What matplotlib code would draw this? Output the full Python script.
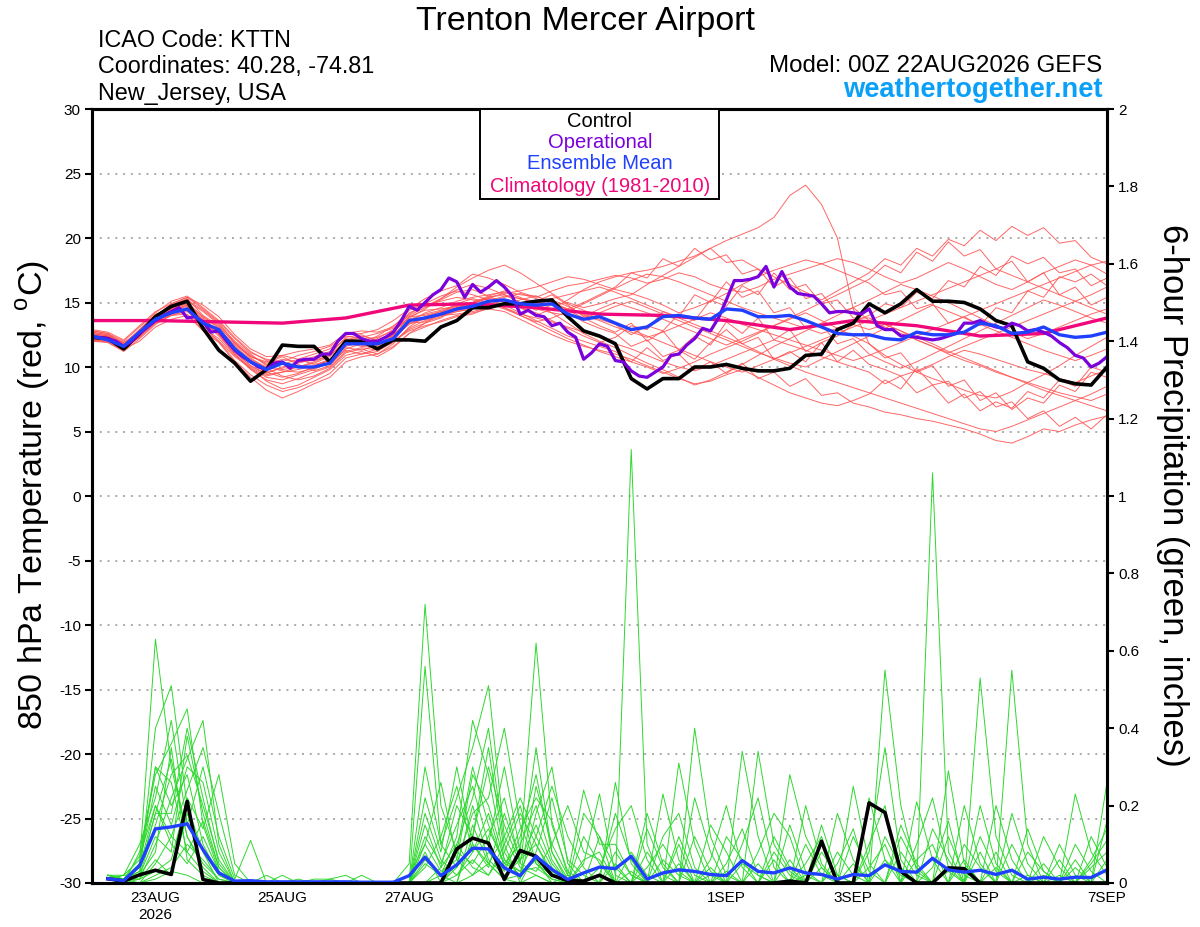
import numpy as np
import pandas as pd
import matplotlib
matplotlib.use('Agg')
import matplotlib.pyplot as plt
from matplotlib.patches import Rectangle

# 字形
plt.rcParams['font.family'] = ['Liberation Sans', 'DejaVu Sans']
plt.rcParams['mathtext.fontset'] = 'custom'
plt.rcParams['mathtext.rm'] = 'Liberation Sans'
plt.rcParams['axes.unicode_minus'] = False

# 時間軸
t_temp = pd.date_range('2026-08-22 00:00', '2026-09-07 00:00', freq='6h')
t_prcp = t_temp[1:]
t_oper = pd.date_range('2026-08-22 00:00', '2026-09-07 00:00', freq='3h')
t_clim = pd.date_range('2026-08-22', '2026-09-07', freq='D')

tick_dates = ['2026-08-23', '2026-08-25', '2026-08-27', '2026-08-29',
              '2026-09-01', '2026-09-03', '2026-09-05', '2026-09-07']
tick_labels = ['23AUG\n2026', '25AUG', '27AUG', '29AUG', '1SEP', '3SEP', '5SEP', '7SEP']

# 850 hPa temperature
clim_t = [13.6, 13.6, 13.5, 13.4, 13.8, 14.8, 14.9, 14.6, 14.1, 14.0, 13.6, 12.9,
          13.6, 13.2, 12.4, 12.6, 13.8]

mean_t = [12.4, 12.1, 11.6, 12.7, 13.7, 14.2, 14.5, 13.4, 12.9, 11.4, 10.4, 9.8, 10.3, 10.0, 10.0, 10.3, 11.8,
          11.8, 11.8, 12.2, 13.6, 13.8, 14.1, 14.5, 14.7, 15.1, 15.2, 14.9, 14.8, 14.9, 14.1, 13.7, 13.9,
          13.4, 12.9, 13.1, 13.9, 14.0, 13.8, 13.7, 14.5, 14.4, 13.9, 13.9, 14.0, 13.6, 13.1, 12.6, 12.5,
          12.5, 12.2, 12.1, 12.7, 12.5, 12.5, 12.7, 13.4, 13.2, 12.6, 12.7, 13.1, 12.5, 12.3, 12.4, 12.7]

ctrl_t = [12.3, 12.2, 11.4, 12.6, 13.9, 14.7, 15.1, 13.0, 11.3, 10.3, 8.9, 9.8, 11.7, 11.6, 11.6, 10.4, 12.0,
          12.0, 11.4, 12.1, 12.1, 12.0, 13.1, 13.6, 14.6, 14.6, 14.9, 14.9, 15.1, 15.2, 13.9, 12.8, 12.4,
          11.8, 9.1, 8.3, 9.1, 9.1, 10.0, 10.0, 10.2, 9.9, 9.7, 9.7, 9.9, 10.9, 11.0, 12.9, 13.4,
          14.9, 14.2, 14.9, 16.0, 15.1, 15.1, 15.0, 14.5, 13.6, 13.2, 10.4, 9.9, 9.0, 8.7, 8.6, 10.0]

# operational run, 3-hourly
oper_t = [12.3, 12.3, 12.2, 12.0, 11.6, 12.0, 12.6, 13.1, 13.6, 14.0, 14.3, 14.6, 13.8, 13.9, 13.5, 12.7,
          12.8, 12.0, 11.3, 10.8, 10.4, 10.0, 9.8, 10.3, 10.4, 9.9, 10.5, 10.6, 10.6, 11.0, 11.0, 12.0,
          12.6, 12.6, 12.2, 12.0, 12.0, 12.3, 12.7, 13.6, 14.7, 14.4, 15.0, 15.6, 16.0,
          16.9, 16.6, 15.4, 16.4, 15.8, 16.2, 16.7, 16.2, 15.5, 14.1, 14.4, 14.0, 13.9, 13.2, 13.4, 12.7,
          12.3, 10.6, 11.1, 11.8, 11.6, 10.5, 10.4, 9.7, 9.3, 9.2, 9.6, 10.0, 10.9, 11.0, 11.7, 12.2,
          13.0, 12.8, 13.8, 15.2, 16.7, 16.7, 16.8, 17.0, 17.8,
          16.2, 17.4, 16.2, 15.7, 15.6, 15.5, 14.9, 14.2, 14.3, 14.3, 14.2, 14.1, 14.5, 13.2, 12.9, 12.9,
          12.4, 12.4, 12.3, 12.2, 12.1, 12.2, 12.4, 12.6, 13.4, 13.4, 13.6, 13.3, 13.1, 13.0, 13.4, 13.2,
          12.8, 12.9, 12.7, 12.4, 11.9, 11.5, 10.9, 10.7, 10.0, 10.3, 10.8]

# ensemble members (temperature)
t_mem01 = [12.6, 12.4, 11.8, 12.9, 14.0, 14.8, 15.3, 14.0, 13.2, 11.8, 10.9, 10.2, 10.6, 10.4, 10.5, 10.9, 12.0,
           12.3, 12.6, 13.0, 14.0, 14.6, 15.2, 15.8, 16.0, 15.5, 15.0, 14.6, 14.0, 14.5, 15.2, 16.0, 16.6,
           17.0, 17.3, 17.5, 17.8, 18.2, 18.6, 19.2, 19.8, 20.3, 20.8, 21.6, 23.3, 24.1, 22.6, 20.0, 14.5,
           11.8, 10.9, 10.2, 9.6, 9.1, 8.7, 8.2, 7.8, 7.6, 8.1, 8.8, 9.4, 10.1, 10.9, 11.6, 12.3]
t_mem02 = [12.2, 12.0, 11.4, 12.5, 13.5, 14.3, 14.8, 13.8, 12.7, 11.2, 10.1, 9.4, 9.6, 9.8, 10.1, 10.6, 11.6,
           11.9, 12.2, 12.9, 13.8, 14.5, 15.3, 16.0, 16.4, 16.1, 15.6, 15.0, 14.4, 14.8, 15.0, 14.6, 14.9,
           15.3, 15.6, 16.4, 17.1, 17.8, 18.5, 19.2, 18.1, 18.3, 17.6, 17.0, 16.4, 15.8, 15.2, 15.9, 16.6,
           17.3, 18.4, 17.9, 19.2, 18.6, 19.9, 19.4, 20.6, 19.8, 20.9, 20.2, 20.8, 19.6, 19.8, 18.5, 18.0]
t_mem03 = [12.4, 12.2, 11.7, 12.8, 13.9, 14.6, 14.9, 13.5, 12.4, 11.0, 9.8, 9.0, 8.7, 9.1, 9.6, 10.0, 11.2,
           11.5, 11.3, 11.9, 13.0, 13.6, 14.0, 14.3, 14.5, 14.7, 14.8, 14.2, 13.6, 13.0, 12.4, 12.0, 11.6,
           11.2, 10.4, 11.5, 10.5, 11.0, 9.8, 10.4, 9.5, 10.3, 9.1, 9.6, 8.5, 9.1, 7.8, 8.0, 7.2,
           6.9, 6.5, 6.3, 6.0, 5.8, 5.5, 5.2, 4.8, 4.3, 4.1, 4.6, 5.2, 5.0, 5.5, 5.9, 6.2]
t_mem04 = [12.8, 12.6, 12.0, 13.1, 14.2, 15.1, 15.5, 14.6, 13.6, 12.3, 11.2, 10.5, 10.2, 10.6, 11.0, 11.4, 12.5,
           12.6, 12.9, 13.6, 14.5, 15.3, 15.9, 16.3, 17.2, 16.9, 16.4, 15.8, 15.4, 15.9, 16.3, 16.5, 16.8,
           17.1, 16.9, 16.5, 16.8, 17.3, 17.0, 16.4, 16.0, 15.8, 16.2, 16.8, 17.2, 17.6, 18.0, 18.4, 18.1,
           17.6, 17.0, 16.5, 16.9, 17.5, 18.1, 17.6, 17.0, 16.4, 16.0, 16.6, 17.3, 17.8, 18.3, 17.9, 17.2]
t_mem05 = [12.1, 11.9, 11.2, 12.2, 13.3, 14.0, 14.4, 13.1, 12.0, 10.8, 9.9, 9.2, 9.0, 9.4, 9.8, 10.4, 11.3,
           11.0, 11.2, 12.0, 12.9, 13.4, 13.8, 14.6, 15.0, 15.3, 15.1, 14.9, 14.6, 14.9, 14.2, 13.5, 13.0,
           12.6, 11.6, 12.1, 10.8, 11.3, 10.6, 11.9, 12.9, 11.8, 12.3, 10.6, 11.2, 10.4, 11.9, 12.4, 13.3,
           12.9, 13.3, 12.8, 12.1, 11.6, 11.0, 10.5, 10.1, 9.6, 9.2, 8.8, 8.4, 8.0, 7.7, 7.4, 7.9]
t_mem06 = [12.7, 12.5, 11.9, 12.6, 13.8, 14.7, 15.1, 14.3, 13.3, 12.0, 11.0, 10.1, 9.8, 10.0, 10.3, 10.8, 12.1,
           12.4, 12.1, 12.4, 13.5, 14.2, 14.6, 15.1, 15.4, 15.6, 15.8, 15.4, 14.8, 14.2, 13.4, 12.6, 12.0,
           11.5, 10.9, 10.3, 9.8, 9.2, 8.6, 9.0, 9.6, 10.2, 10.9, 11.6, 12.2, 12.8, 13.4, 14.0, 14.6,
           15.2, 15.8, 16.4, 16.0, 15.5, 15.0, 14.4, 13.8, 13.2, 12.7, 12.2, 12.6, 13.1, 13.6, 14.1, 14.5]
t_mem07 = [12.3, 12.1, 11.5, 12.3, 13.4, 14.1, 14.6, 13.6, 12.5, 11.0, 9.9, 8.9, 8.3, 8.6, 9.2, 9.8, 10.9,
           11.2, 10.8, 11.5, 12.6, 13.1, 13.6, 14.0, 14.2, 14.5, 14.3, 13.7, 13.1, 12.5, 12.0, 11.6, 11.3,
           11.0, 10.6, 10.1, 9.6, 9.1, 8.7, 8.9, 9.4, 9.8, 9.2, 8.6, 8.0, 7.6, 7.2, 7.0, 7.4,
           7.9, 9.0, 8.3, 9.9, 8.6, 8.9, 7.6, 8.1, 6.9, 7.3, 6.0, 6.6, 5.4, 6.1, 5.2, 6.3]
t_mem08 = [12.5, 12.3, 11.6, 12.6, 13.7, 14.4, 14.7, 13.4, 12.9, 11.7, 10.8, 10.4, 10.9, 10.6, 10.2, 10.5, 11.9,
           11.7, 11.6, 12.4, 13.9, 14.0, 14.3, 14.7, 15.0, 15.4, 15.7, 15.9, 16.2, 16.6, 17.0, 16.8, 16.4,
           16.0, 15.7, 15.3, 14.8, 14.2, 14.6, 15.1, 15.7, 16.4, 17.0, 17.5, 17.9, 18.3, 18.0, 17.5, 17.0,
           16.5, 15.6, 15.9, 14.5, 14.9, 13.4, 13.9, 13.2, 14.6, 14.2, 15.9, 15.4, 17.0, 16.6, 17.2, 16.3]
t_mem09 = [12.0, 12.0, 11.3, 12.4, 13.4, 14.0, 14.1, 12.9, 12.0, 10.5, 9.4, 8.6, 8.1, 8.4, 8.9, 9.5, 10.7,
           11.0, 11.4, 12.0, 12.8, 13.2, 13.5, 13.9, 14.1, 14.6, 14.9, 15.2, 15.5, 15.0, 14.4, 13.8, 13.2,
           12.7, 13.4, 12.0, 12.8, 11.3, 12.4, 11.7, 13.5, 12.6, 13.8, 12.1, 12.9, 11.2, 11.9, 10.4, 11.3,
           10.2, 9.8, 9.3, 9.7, 10.2, 10.8, 11.3, 11.0, 10.6, 10.2, 9.8, 9.5, 9.1, 8.8, 9.3, 9.8]
t_mem10 = [12.9, 12.7, 12.1, 13.2, 14.3, 14.9, 15.4, 14.8, 13.9, 12.5, 11.4, 10.8, 10.9, 11.2, 11.4, 11.7, 12.6,
           12.8, 12.7, 13.1, 14.4, 14.9, 15.5, 15.9, 15.6, 15.2, 14.6, 14.0, 13.5, 13.8, 14.3, 14.9, 15.5,
           16.1, 16.7, 17.2, 17.0, 16.6, 16.1, 15.6, 15.1, 14.6, 14.2, 13.8, 13.4, 13.0, 12.6, 13.0, 13.5,
           14.0, 14.9, 14.6, 15.8, 15.3, 16.7, 16.2, 17.8, 17.1, 18.6, 18.0, 18.5, 17.3, 17.6, 16.3, 16.9]
t_mem11 = [12.4, 12.2, 11.4, 12.0, 13.1, 13.7, 14.0, 12.8, 11.9, 10.4, 9.2, 8.2, 7.6, 8.1, 8.7, 9.2, 10.4,
           10.8, 11.0, 11.6, 12.6, 13.4, 14.2, 14.9, 15.3, 15.0, 14.6, 14.1, 13.8, 13.5, 13.1, 12.7, 12.3,
           11.8, 11.4, 10.9, 10.4, 10.0, 9.7, 10.1, 10.6, 11.1, 11.6, 12.1, 11.7, 11.3, 10.8, 10.4, 10.0,
           9.6, 8.7, 9.3, 8.0, 8.6, 7.2, 7.9, 6.6, 7.3, 6.8, 8.1, 7.6, 9.0, 8.5, 10.0, 9.6]
t_mem12 = [12.6, 12.4, 11.9, 12.7, 13.9, 14.5, 14.9, 13.9, 13.0, 11.6, 10.6, 10.0, 9.7, 9.6, 9.9, 10.6, 11.8,
           12.1, 12.3, 12.8, 13.7, 14.1, 14.4, 14.8, 15.0, 15.3, 15.2, 14.8, 14.5, 14.2, 14.0, 13.8, 14.2,
           14.7, 15.1, 14.6, 14.1, 13.6, 13.1, 12.6, 12.1, 11.6, 11.1, 10.7, 10.3, 10.0, 10.6, 11.2, 11.8,
           12.4, 13.0, 13.6, 14.2, 14.8, 14.3, 13.8, 13.3, 12.8, 12.3, 11.8, 11.3, 10.9, 10.5, 10.9, 11.4]
t_mem13 = [12.2, 12.1, 11.6, 12.5, 13.5, 14.3, 14.5, 13.1, 12.6, 11.1, 10.1, 9.5, 10.0, 10.3, 10.6, 11.0, 12.3,
           12.5, 12.0, 12.5, 13.4, 13.5, 13.9, 14.3, 14.5, 15.0, 15.4, 15.7, 15.3, 14.9, 14.5, 14.1, 13.7,
           13.3, 12.5, 13.2, 12.8, 14.1, 13.6, 15.2, 14.7, 16.3, 15.6, 17.3, 16.0, 16.4, 14.9, 15.2, 13.8,
           13.8, 13.3, 12.8, 12.3, 11.8, 11.2, 10.7, 10.2, 9.7, 9.2, 8.7, 8.2, 7.8, 7.4, 7.9, 8.5]
t_mem14 = [12.5, 12.3, 11.7, 12.8, 13.6, 14.0, 14.3, 13.3, 12.6, 11.3, 10.3, 9.6, 9.9, 10.4, 10.8, 11.2, 12.2,
           12.0, 11.8, 12.3, 13.3, 13.9, 14.0, 14.1, 14.3, 14.6, 14.9, 14.6, 14.2, 13.6, 13.0, 12.4, 11.9,
           12.3, 13.2, 12.9, 14.3, 13.9, 15.6, 15.0, 16.6, 15.4, 15.9, 14.2, 14.6, 13.0, 13.3, 11.8, 12.2,
           11.0, 10.4, 9.9, 10.4, 11.0, 11.6, 12.2, 12.8, 13.4, 14.0, 14.6, 15.2, 14.8, 14.3, 13.8, 13.4]
t_mem15 = [12.7, 12.5, 11.6, 12.3, 13.8, 14.6, 15.2, 14.4, 13.4, 11.9, 10.7, 9.9, 9.3, 9.0, 9.3, 9.9, 11.1,
           11.4, 11.0, 11.8, 13.1, 13.9, 14.3, 14.6, 14.8, 15.1, 15.5, 15.3, 15.0, 15.3, 15.6, 15.9, 16.2,
           15.8, 15.3, 14.8, 14.3, 13.8, 13.3, 12.8, 12.3, 11.8, 11.2, 10.6, 10.1, 9.6, 9.2, 8.8, 8.4,
           8.0, 7.6, 7.2, 6.8, 6.4, 6.0, 5.6, 5.2, 5.0, 5.4, 5.9, 6.4, 6.9, 7.4, 7.0, 6.6]
t_mem16 = [12.1, 12.0, 11.5, 12.7, 13.6, 14.1, 14.6, 13.7, 12.6, 11.5, 10.4, 9.6, 9.2, 9.5, 10.0, 10.6, 11.7,
           11.9, 12.4, 13.2, 14.1, 14.8, 15.1, 15.4, 15.2, 14.9, 14.5, 14.0, 13.4, 12.8, 12.2, 11.7, 11.2,
           10.8, 10.4, 10.0, 9.5, 9.9, 10.4, 11.0, 11.5, 12.0, 12.6, 13.2, 13.8, 14.4, 15.0, 15.6, 16.2,
           16.8, 17.9, 17.3, 18.9, 18.2, 19.7, 18.6, 19.1, 17.6, 18.2, 16.6, 17.3, 15.6, 16.2, 14.8, 15.4]
t_mem17 = [12.8, 12.6, 11.8, 12.5, 13.9, 14.9, 15.4, 14.5, 13.5, 12.2, 11.1, 10.6, 10.4, 10.9, 11.2, 11.6, 12.4,
           12.2, 11.9, 12.6, 14.2, 14.7, 15.3, 16.2, 16.9, 17.5, 17.9, 17.3, 16.5, 15.7, 14.9, 14.4, 13.9,
           13.4, 12.9, 12.4, 11.9, 11.4, 10.9, 10.4, 10.0, 9.6, 10.1, 10.6, 11.1, 11.6, 12.1, 12.6, 13.1,
           13.6, 14.1, 14.6, 15.1, 15.6, 16.1, 16.6, 17.1, 17.6, 17.1, 16.6, 16.1, 15.6, 15.1, 14.6, 14.1]
t_mem18 = [12.0, 11.9, 11.3, 12.4, 13.5, 14.2, 14.4, 13.0, 12.2, 10.9, 10.0, 9.3, 9.6, 10.0, 10.4, 10.9, 11.9,
           11.6, 11.5, 12.1, 13.4, 13.7, 14.0, 14.4, 14.6, 14.9, 15.1, 14.8, 14.9, 15.2, 14.7, 14.0, 13.6,
           13.1, 12.7, 12.3, 12.7, 13.2, 13.7, 14.2, 13.8, 13.3, 12.9, 12.5, 12.1, 11.7, 11.3, 10.9, 10.5,
           10.9, 11.4, 11.9, 12.4, 12.9, 13.4, 13.9, 14.4, 14.9, 15.4, 15.9, 16.4, 16.9, 17.4, 17.9, 18.2]
t_mem19 = [12.3, 12.2, 11.4, 12.6, 13.7, 14.4, 14.8, 13.6, 12.9, 11.5, 10.5, 9.9, 10.3, 10.1, 10.0, 10.2, 11.5,
           11.3, 11.7, 12.5, 13.6, 13.7, 14.1, 14.5, 14.9, 15.4, 15.6, 15.3, 15.1, 15.6, 14.8, 13.9, 14.5,
           15.0, 14.6, 14.2, 13.7, 13.2, 12.7, 12.2, 11.7, 12.2, 12.7, 13.2, 13.7, 14.2, 13.6, 13.0, 12.4,
           11.8, 10.7, 11.1, 9.6, 10.1, 8.5, 9.0, 7.4, 8.0, 6.7, 7.6, 7.2, 8.6, 8.1, 9.6, 9.2]
t_mem20 = [12.6, 12.4, 11.7, 12.9, 14.1, 14.5, 15.0, 13.9, 13.1, 11.9, 10.8, 10.3, 10.8, 10.2, 9.7, 10.1, 11.4,
           11.8, 12.0, 12.7, 13.9, 14.4, 14.5, 14.7, 15.0, 15.5, 15.9, 15.6, 15.5, 15.0, 14.5, 15.0, 15.6,
           16.2, 17.3, 16.9, 18.4, 17.8, 19.2, 18.3, 18.7, 17.2, 17.6, 16.2, 16.9, 15.3, 15.7, 14.2, 14.6,
           13.6, 13.1, 12.6, 12.1, 11.6, 11.1, 11.6, 12.1, 12.6, 13.1, 13.6, 14.1, 14.6, 15.1, 15.6, 16.2]

temp_members = [t_mem01, t_mem02, t_mem03, t_mem04, t_mem05, t_mem06, t_mem07, t_mem08, t_mem09, t_mem10,
                t_mem11, t_mem12, t_mem13, t_mem14, t_mem15, t_mem16, t_mem17, t_mem18, t_mem19, t_mem20]

# 6-hour precipitation (inches)
mean_p = [.011, .006, .045, .14, .145, .153, .086, .026, .005, .006, .003, .003, .003, .003, .003, .003,
          .002, .002, .002, .019, .067, .019, .047, .09, .088, .039, .019, .069, .035, .009, .026, .041,
          .037, .069, .010, .026, .034, .030, .022, .019, .058, .030, .026, .039, .026, .022, .010, .022,
          .019, .047, .030, .028, .064, .034, .028, .033, .022, .033, .010, .015, .010, .015, .014, .034]

ctrl_p = [.011, .005, .021, .033, .022, .211, .009, 0, 0, 0, 0, 0, 0, 0, 0, 0,
          0, 0, 0, 0, 0, 0, .088, .116, .103, .009, .084, .069, .02, .006, .005, .02,
          0, 0, 0, 0, 0, 0, 0, 0, 0, 0, 0, .005, 0, .108, 0, 0,
          .207, .182, .03, 0, 0, .039, .037, 0, 0, 0, 0, 0, 0, 0, 0, 0]

p_mem01 = [.01, .01, .05, .63, .30, .12, .05, .01, 0, 0, 0, 0, 0, 0, 0, 0,
           0, 0, 0, .05, .72, .20, .08, .30, .15, .05, .10, .20, .06, 0, 0, 0,
           0, 1.12, .10, 0, 0, 0, 0, 0, .05, .02, 0, 0, 0, 0, 0, 0,
           0, .12, .04, 0, 0, 0, 0, .08, 0, 0, 0, 0, 0, 0, 0, 0]
p_mem02 = [.02, .01, .02, .40, .51, .20, .08, .02, 0, 0, 0, 0, 0, 0, 0, 0,
           0, 0, 0, 0, .56, .10, .22, .35, .51, .12, .04, .02, 0, 0, 0, 0,
           .26, .05, 0, 0, .31, .10, 0, 0, 0, 0, 0, 0, 0, .04, 0, .25,
           .05, 0, 0, 0, .14, .06, 0, 0, 0, 0, 0, .02, 0, 0, 0, 0]
p_mem03 = [.01, 0, .08, .28, .36, .45, .15, .03, 0, 0, 0, 0, 0, 0, .01, .02,
           0, 0, 0, 0, .12, .05, .15, .25, .10, .30, .08, .62, .15, .03, 0, 0,
           0, 0, 0, .23, .06, 0, 0, 0, .34, .12, 0, .06, 0, 0, 0, 0,
           0, .55, .20, .03, 0, 0, 0, 0, 0, .10, .02, 0, 0, 0, 0, 0]
p_mem04 = [.01, .01, .01, .10, .22, .32, .42, .10, 0, 0, 0, 0, 0, 0, 0, 0,
           0, 0, 0, 0, .22, .08, .30, .10, .05, .12, .22, .12, .04, 0, 0, .12,
           .04, 0, 0, 0, 0, .40, .12, .02, 0, 0, 0, 0, .05, .12, 0, 0,
           0, 0, 0, 0, 1.06, .08, 0, 0, 0, 0, 0, 0, 0, .06, 0, 0]
p_mem05 = [.02, .01, .03, .18, .18, .40, .22, .05, 0, 0, 0, 0, 0, 0, 0, 0,
           0, 0, 0, 0, .05, .02, .12, .42, .28, .06, .02, .25, .10, .02, .24, .10,
           .10, .02, 0, 0, 0, 0, 0, 0, 0, .34, .10, .03, 0, 0, 0, 0,
           .10, .20, 0, 0, 0, 0, 0, .53, .12, .02, 0, 0, 0, 0, 0, 0]
p_mem06 = [.01, .02, .10, .22, .42, .15, .30, .12, .01, .11, 0, 0, 0, 0, 0, 0,
           0, 0, 0, 0, .08, 0, .05, .18, .22, .40, .15, .05, .02, 0, 0, 0,
           0, 0, .08, .02, 0, 0, .06, .20, .04, 0, 0, .28, .12, .04, 0, 0,
           0, 0, 0, .21, .06, 0, 0, 0, 0, .55, .10, 0, 0, 0, 0, 0]
p_mem07 = [.01, .01, 0, .05, .12, .24, .35, .18, .02, 0, 0, 0, 0, 0, 0, 0,
           0, 0, 0, 0, 0, .04, .20, .12, .35, .08, .01, .18, .30, .05, 0, .04,
           .14, .20, .06, 0, 0, .12, .03, 0, 0, 0, 0, 0, 0, 0, .08, .02,
           0, 0, 0, 0, 0, .29, .05, 0, 0, 0, 0, 0, 0, .23, .08, .02]
p_mem08 = [.02, .01, .04, .30, .26, .08, .03, 0, 0, 0, 0, .02, 0, 0, 0, 0,
           .02, 0, 0, .02, .10, .26, .06, .02, .08, .03, .12, .28, .08, 0, .05, .23,
           .02, 0, 0, .12, .18, .04, 0, 0, 0, .08, .18, .12, 0, 0, 0, 0,
           0, 0, .08, .02, 0, 0, 0, 0, 0, 0, 0, .12, .04, 0, 0, .26]
p_mem09 = [.01, 0, .02, .12, .08, .38, .18, .04, 0, 0, 0, 0, 0, 0, 0, 0,
           0, 0, 0, 0, 0, 0, .04, .10, .04, .18, .06, .10, .02, 0, .12, .05,
           0, 0, 0, 0, .10, 0, 0, .05, .14, .02, 0, 0, 0, 0, 0, .12,
           .03, 0, 0, 0, 0, 0, .10, .04, 0, 0, 0, 0, 0, 0, .05, .11]
p_mem10 = [.02, .02, .06, .30, .20, .28, .10, .02, 0, 0, 0, 0, .01, 0, 0, 0,
           0, 0, 0, 0, .15, .04, .10, .22, .40, .10, 0, .08, .22, .06, .02, 0,
           0, .08, .02, 0, 0, 0, .15, .08, 0, 0, 0, 0, .20, .05, 0, 0,
           0, 0, .15, .05, 0, 0, 0, 0, .20, .06, 0, 0, 0, 0, 0, .06]
p_mem11 = [.01, .01, .01, .03, .06, .22, .14, .28, .05, 0, 0, 0, 0, 0, 0, 0,
           0, 0, 0, 0, 0, .02, .08, .05, .12, .22, .05, .03, .10, .20, .08, .06,
           0, 0, .14, .04, 0, 0, 0, 0, 0, 0, .06, 0, 0, 0, .18, .06,
           0, 0, 0, 0, .04, .16, 0, 0, 0, 0, .08, .03, 0, 0, .12, .04]
p_mem12 = [.01, .01, .03, .18, .32, .12, .04, 0, 0, 0, .02, 0, 0, 0, 0, 0,
           0, 0, 0, 0, .30, .10, .04, .20, .06, .02, .06, .15, .05, 0, 0, 0,
           .05, 0, 0, 0, 0, .22, .08, 0, 0, 0, 0, 0, .02, 0, 0, 0,
           .08, .35, .06, 0, 0, 0, 0, .12, .03, 0, 0, 0, .06, 0, 0, 0]
p_mem13 = [.01, 0, 0, .02, .04, .10, .06, .01, 0, 0, 0, 0, 0, .01, .01, 0,
           0, 0, 0, 0, 0, 0, .02, .08, .14, .05, .03, .04, .01, 0, .18, .12,
           0, .03, 0, 0, .05, 0, 0, 0, .10, .22, .04, 0, 0, 0, .05, .14,
           0, 0, 0, 0, 0, 0, .20, .05, 0, 0, 0, 0, 0, .10, .03, 0]
p_mem14 = [.02, .01, .05, .25, .15, .30, .26, .08, 0, 0, 0, 0, 0, 0, 0, 0,
           0, 0, 0, 0, .04, .12, .25, .08, .18, .04, .14, .22, .16, .02, 0, 0,
           .08, .02, 0, 0, 0, 0, 0, .12, .06, 0, 0, 0, 0, .15, .02, 0,
           0, 0, 0, .10, .22, .04, 0, 0, 0, .18, .05, 0, 0, 0, 0, .16]
p_mem15 = [.01, .01, .02, .08, .35, .06, .02, 0, 0, 0, 0, 0, 0, 0, 0, 0,
           0, 0, 0, 0, 0, 0, 0, .15, .05, .01, .02, .06, 0, .02, 0, 0,
           0, 0, 0, .06, .02, 0, 0, 0, 0, 0, 0, .15, .03, 0, 0, 0,
           0, .06, .02, 0, 0, 0, 0, 0, .08, 0, 0, 0, .10, .02, 0, 0]
p_mem16 = [.02, .01, .04, .20, .10, .05, .12, .03, 0, 0, 0, 0, 0, 0, 0, 0,
           0, 0, 0, 0, .10, .03, .06, .28, .20, .06, .03, .12, .25, .12, .04, 0,
           0, 0, .18, .05, 0, 0, .02, 0, 0, 0, .12, .04, 0, 0, 0, 0,
           .22, .06, 0, 0, 0, .12, .02, 0, 0, 0, 0, .05, 0, 0, .04, .08]
p_mem17 = [.01, 0, .01, .06, .02, .18, .08, 0, 0, 0, 0, 0, 0, 0, 0, 0,
           0, 0, 0, 0, 0, 0, .10, .04, .02, .10, .20, .05, .01, 0, 0, 0,
           0, 0, 0, 0, .12, .02, 0, 0, 0, .05, 0, 0, 0, .08, .02, 0,
           0, 0, 0, .06, .10, 0, 0, 0, .04, 0, 0, 0, .02, 0, 0, 0]
p_mem18 = [.01, .02, .02, .15, .28, .33, .20, .06, 0, 0, 0, 0, 0, 0, 0, 0,
           0, 0, 0, 0, .06, .02, 0, .12, .30, .15, .05, .35, .08, .01, 0, .02,
           .18, .06, 0, 0, 0, 0, 0, .03, 0, 0, 0, 0, .10, .02, 0, 0,
           0, 0, .12, .04, 0, 0, 0, .20, .05, 0, 0, 0, 0, 0, .06, .14]
p_mem19 = [0, 0, 0, .01, .03, .02, 0, 0, 0, 0, 0, 0, 0, 0, 0, 0,
           0, 0, 0, 0, 0, 0, 0, .02, .05, .01, 0, .02, 0, 0, 0, 0,
           0, 0, 0, 0, 0, 0, .04, 0, 0, 0, 0, 0, 0, 0, 0, .05,
           0, 0, 0, 0, 0, .03, 0, 0, 0, 0, .02, 0, 0, 0, 0, 0]
p_mem20 = [.02, .01, .07, .20, .12, .08, .16, .04, 0, 0, 0, 0, 0, 0, 0, 0,
           0, 0, 0, 0, .18, .06, .02, .06, .02, .08, .18, .10, .03, 0, .06, .08,
           0, 0, .04, .10, .03, 0, 0, 0, 0, 0, .08, .02, 0, 0, 0, 0,
           .04, .10, 0, 0, 0, 0, .06, 0, 0, 0, .14, .03, 0, .04, 0, 0]

prcp_members = [p_mem01, p_mem02, p_mem03, p_mem04, p_mem05, p_mem06, p_mem07, p_mem08, p_mem09, p_mem10,
                p_mem11, p_mem12, p_mem13, p_mem14, p_mem15, p_mem16, p_mem17, p_mem18, p_mem19, p_mem20]

t_ticks = list(range(-30, 31, 5))
p_ticks = [0, 0.2, 0.4, 0.6, 0.8, 1, 1.2, 1.4, 1.6, 1.8, 2]
p_tick_labels = ['0', '0.2', '0.4', '0.6', '0.8', '1', '1.2', '1.4', '1.6', '1.8', '2']

W, H = 1200, 927
fig = plt.figure(figsize=(W / 100, H / 100), dpi=100)
ax = fig.add_axes([92 / W, 1 - 883 / H, (1107 - 92) / W, (883 - 109) / H])

# 溫度
for m in temp_members:
    ax.plot(t_temp, m, color='#ff5555', lw=0.7, alpha=0.9)
ax.plot(t_clim, clim_t, color='#f0087a', lw=2.4)
ax.plot(t_temp, ctrl_t, color='black', lw=2.6)
ax.plot(t_oper, oper_t, color='#7a00dc', lw=2.3)
ax.plot(t_temp, mean_t, color='#2040ff', lw=2.4)

ax.set_ylim(-30, 30)
ax.set_xlim(t_temp[0], t_temp[-1])
ax.set_yticks(t_ticks)
ax.set_yticklabels([str(v) for v in t_ticks])
ax.set_xticks(pd.to_datetime(tick_dates))
ax.set_xticklabels(tick_labels)
ax.grid(axis='y', color='#aaaaaa', lw=1.4, ls=(0, (1, 3)))
ax.tick_params(axis='y', direction='out', length=5, width=1.5, labelsize=11, pad=3)
ax.tick_params(axis='x', length=0, labelsize=11, pad=6)

# 降水
ax2 = ax.twinx()
for m in prcp_members:
    ax2.plot(t_prcp, m, color='#2ed82e', lw=0.7)
ax2.plot(t_prcp, ctrl_p, color='black', lw=2.6)
ax2.plot(t_prcp, mean_p, color='#2040ff', lw=2.4)
ax2.set_ylim(0, 2)
ax2.set_yticks(p_ticks)
ax2.set_yticklabels(p_tick_labels)
ax2.tick_params(axis='y', direction='out', length=5, width=1.5, labelsize=11, pad=3)

for a in (ax, ax2):
    for s in a.spines.values():
        s.set_linewidth(2.2)

# 標題與文字
fig.text(585 / W, 1 - 30 / H, 'Trenton Mercer Airport', fontsize=24.5, ha='center', va='baseline')
fig.text(98 / W, 1 - 47 / H, 'ICAO Code: KTTN', fontsize=16.8, va='baseline')
fig.text(98 / W, 1 - 73 / H, 'Coordinates: 40.28, -74.81', fontsize=16.8, va='baseline')
fig.text(98 / W, 1 - 100 / H, 'New_Jersey, USA', fontsize=16.8, va='baseline')
fig.text(1102 / W, 1 - 72 / H, 'Model: 00Z 22AUG2026 GEFS', fontsize=17.4, ha='right', va='baseline')
fig.text(1103 / W, 1 - 97 / H, 'weathertogether.net', fontsize=19.6, fontweight='bold',
         color='#0aa0f8', ha='right', va='baseline')

fig.text(33 / W, 1 - 495 / H, '850 hPa Temperature (red, $^\\mathrm{o}$C)', fontsize=24.5,
         rotation=90, ha='center', va='center')
fig.text(1172 / W, 1 - 495 / H, '6-hour Precipitation (green, inches)', fontsize=25,
         rotation=270, ha='center', va='center')

# 圖例方框
box = Rectangle((480 / W, 1 - 199 / H), (719 - 480) / W, (199 - 109) / H, transform=fig.transFigure,
                facecolor='white', edgecolor='black', lw=1.4, zorder=5)
fig.add_artist(box)
legend_items = [('Control', 'black', 126.7), ('Operational', '#7a00dc', 148.3),
                ('Ensemble Mean', '#2040ff', 169.3), ('Climatology (1981-2010)', '#f0087a', 191.7)]
for txt, col, yb in legend_items:
    fig.text(600 / W, 1 - yb / H, txt, color=col, fontsize=14.5, ha='center', va='baseline', zorder=6)

fig.savefig('out.png', dpi=100)
